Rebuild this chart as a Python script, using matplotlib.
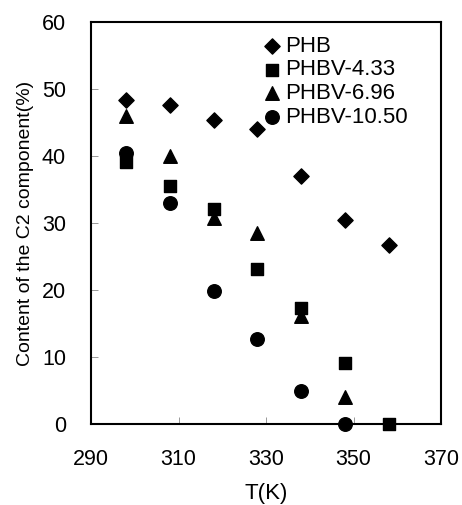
import numpy as np
import matplotlib
matplotlib.use("Agg")
import matplotlib.pyplot as plt

plt.rcParams['font.family'] = ['Liberation Sans', 'DejaVu Sans']

# temperatures (K)
T = [298, 308, 318, 328, 338, 348, 358]

phb = [48.4, 47.6, 45.4, 44.0, 37.0, 30.5, 26.7]
phbv_433 = [39.2, 35.5, 32.1, 23.2, 17.4, 9.2, 0.0]
phbv_696 = [46.0, 40.0, 30.8, 28.5, 16.2, 4.1]
phbv_1050 = [40.5, 33.0, 19.9, 12.7, 5.0, 0.0]

labels = ['PHB', 'PHBV-4.33', 'PHBV-6.96', 'PHBV-10.50']

fig = plt.figure(figsize=(4.62, 5.05), dpi=100)
ax = fig.add_axes([0.197, 0.160, 0.758, 0.796])

ax.scatter(T, phb, marker='D', s=60, color='black', label=labels[0], clip_on=False, zorder=3)
ax.scatter(T, phbv_433, marker='s', s=85, color='black', label=labels[1], clip_on=False, zorder=3)
ax.scatter(T[:len(phbv_696)], phbv_696, marker='^', s=95, color='black', label=labels[2], clip_on=False, zorder=3)
ax.scatter(T[:len(phbv_1050)], phbv_1050, marker='o', s=95, color='black', label=labels[3], clip_on=False, zorder=3)

ax.set_xlim(290, 370)
ax.set_ylim(0, 60)
ax.set_xticks(np.arange(290, 371, 20))
ax.set_yticks(np.arange(0, 61, 10))
ax.tick_params(direction='in', length=5, width=0.6, color='#888888', labelsize=15.5)
ax.tick_params(axis='x', pad=18)
ax.tick_params(axis='y', pad=18)
for s in ax.spines.values():
    s.set_linewidth(1.5)

ax.set_xlabel('T(K)', fontsize=16, labelpad=9)
ax.set_ylabel('Content of the C2 component(%)', fontsize=14, labelpad=6)

ax.legend(loc='upper right', bbox_to_anchor=(0.95, 1.005), frameon=False, fontsize=16,
          handletextpad=0.0, labelspacing=0.12, borderpad=0.2, markerscale=1.0,
          scatterpoints=1, handlelength=1.2)

fig.savefig('out.png', dpi=100)
